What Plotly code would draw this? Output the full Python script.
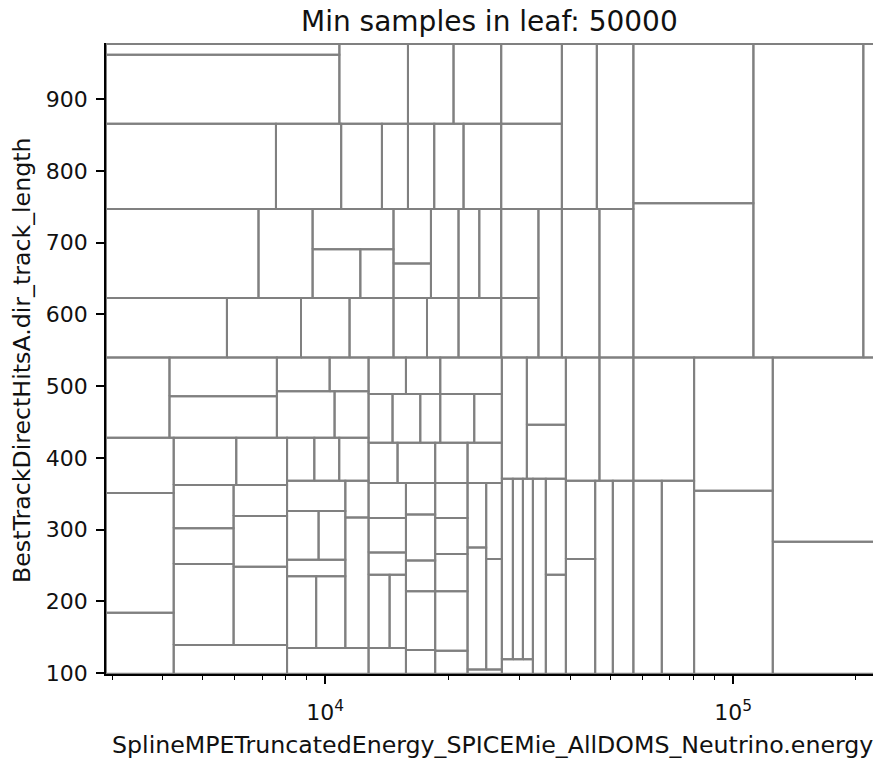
import math
import plotly.graph_objects as go

# ---- data: leaf rectangles of the decision-tree partition (data units) ----
X_MIN, X_MAX = 2900, 225000
Y_MIN, Y_MAX = 99, 977
X_VIEW = (2900, 220300)
Y_VIEW = (98.6, 978.5)

# upper half (y > 540)
up_x0 = [X_MIN, X_MIN, 10830, 15950, 20630, 27000, 38030, 46330,
         X_MIN, 7570, 10940, 13770, 15950, 18500, 21830, 27000,
         X_MIN, 6860, 9310, 9310, 12190, 14700, 14700, 18160, 21220, 23860, 27000, 33320, 38030, 47020,
         X_MIN, 5740, 8720, 11470, 14700, 17760, 21220, 27000,
         56950, 56950, 112150, 208600]
up_x1 = [10830, 10830, 15950, 20630, 27000, 38030, 46330, 56950,
         7570, 10940, 13770, 15950, 18500, 21830, 27000, 38030,
         6860, 9310, 14700, 12190, 14700, 18160, 18160, 21220, 23860, 27000, 33320, 38030, 47020, 56950,
         5740, 8720, 11470, 14700, 17760, 21220, 27000, 33320,
         112150, 112150, 208600, X_MAX]
up_y0 = [962, 866, 866, 866, 866, 866, 747, 747,
         747, 747, 747, 747, 747, 747, 747, 747,
         623, 623, 691, 623, 623, 671, 623, 623, 623, 623, 623, 540, 540, 540,
         540, 540, 540, 540, 540, 540, 540, 540,
         755, 540, 540, 540]
up_y1 = [Y_MAX, 962, Y_MAX, Y_MAX, Y_MAX, Y_MAX, Y_MAX, Y_MAX,
         866, 866, 866, 866, 866, 866, 866, 866,
         747, 747, 747, 691, 691, 747, 671, 747, 747, 747, 747, 747, 747, 747,
         623, 623, 623, 623, 623, 623, 623, 623,
         Y_MAX, 755, Y_MAX, Y_MAX]

# lower half (y < 540)
lo_x0 = [X_MIN, 4150, 4150, 7610, 10250, 7610, 10540,
         12770, 15770, 19140, 12770, 14620, 17100, 19140, 23190,
         X_MIN, X_MIN, X_MIN,
         4250, 6050, 8060, 9400, 10820,
         4250, 4250, 4250, 4250, 5960, 5960, 5960,
         8060, 8060, 9630, 8060, 8060, 9500, 11200, 11200, 8060,
         12770, 15040, 18600, 22330,
         12770, 12770, 12770, 12770, 14380, 12770,
         15770, 15770, 15770, 15770, 15770,
         18600, 18600, 18600, 18600, 18600,
         22330, 22330, 24810, 24810, 22330,
         27100, 31210, 31210, 38900, 47020,
         27100, 28840, 30520, 27100, 32290, 34740, 34740,
         38900, 38900, 45900, 50710,
         56950, 56950, 66860, 80240, 80240, 125100, 125100]
lo_x1 = [4150, 7610, 7610, 10250, 12770, 10540, 12770,
         15770, 19140, 27100, 14620, 17100, 19140, 23190, 27100,
         4250, 4250, 4250,
         6050, 8060, 9400, 10820, 12770,
         5960, 5960, 5960, 8060, 8060, 8060, 8060,
         11200, 9630, 11200, 11200, 9500, 11200, 12770, 12770, 12770,
         15040, 18600, 22330, 27100,
         15770, 15770, 15770, 14380, 15770, 15770,
         18600, 18600, 18600, 18600, 18600,
         22330, 22330, 22330, 22330, 22330,
         24810, 24810, 27100, 27100, 27100,
         31210, 38900, 38900, 47020, 56950,
         28840, 30520, 32290, 32290, 34740, 38900, 38900,
         45900, 45900, 50710, 56950,
         80240, 66860, 80240, 125100, 125100, X_MAX, X_MAX]
lo_y0 = [428, 486, 428, 493, 493, 428, 428,
         489, 489, 489, 421, 421, 421, 421, 421,
         351, 184, Y_MIN,
         362, 362, 368, 368, 368,
         302, 252, 139, Y_MIN, 319, 248, 139,
         326, 258, 258, 235, 135, 135, 317, 135, Y_MIN,
         365, 365, 365, 365,
         316, 268, 237, 135, 135, Y_MIN,
         321, 257, 214, 132, Y_MIN,
         316, 266, 214, 131, Y_MIN,
         275, 105, 259, 105, Y_MIN,
         371, 446, 371, 368, 368,
         119, 119, 119, Y_MIN, Y_MIN, 237, Y_MIN,
         259, Y_MIN, Y_MIN, Y_MIN,
         368, Y_MIN, Y_MIN, 354, Y_MIN, 283, Y_MIN]
lo_y1 = [540, 540, 486, 540, 540, 493, 493,
         540, 540, 540, 489, 489, 489, 489, 489,
         428, 351, 184,
         428, 428, 428, 428, 428,
         362, 302, 252, 139, 362, 319, 248,
         368, 326, 326, 258, 235, 235, 368, 317, 135,
         421, 421, 421, 421,
         365, 316, 268, 237, 237, 135,
         365, 321, 257, 214, 132,
         365, 316, 266, 214, 131,
         365, 275, 365, 259, 105,
         540, 540, 446, 540, 540,
         371, 371, 371, 119, 371, 371, 237,
         368, 259, 368, 368,
         540, 368, 368, 540, 354, 540, 283]

# axis ticks
y_ticks = [100, 200, 300, 400, 500, 600, 700, 800, 900]
x_major = [1e4, 1e5]
x_major_text = ["10<sup>4</sup>", "10<sup>5</sup>"]
x_minor = [3e3, 4e3, 5e3, 6e3, 7e3, 8e3, 9e3,
           2e4, 3e4, 4e4, 5e4, 6e4, 7e4, 8e4, 9e4, 2e5]

title = "Min samples in leaf: 50000"
x_label = "SplineMPETruncatedEnergy_SPICEMie_AllDOMS_Neutrino.energy"
y_label = "BestTrackDirectHitsA.dir_track_length"

# ---- build outlines ----
xs, ys = [], []
for X0, X1, Y0, Y1 in [(up_x0, up_x1, up_y0, up_y1), (lo_x0, lo_x1, lo_y0, lo_y1)]:
    assert len(X0) == len(X1) == len(Y0) == len(Y1)
    for a, b, c, d in zip(X0, X1, Y0, Y1):
        xs += [a, b, b, a, a, None]
        ys += [c, c, d, d, c, None]

fig = go.Figure()
fig.add_trace(go.Scatter(x=xs, y=ys, mode="lines",
                         line=dict(color="rgb(128,128,128)", width=2),
                         hoverinfo="skip", showlegend=False))

L, R, T, B = 106, 1, 43, 85
W, H = 874, 759
fig.update_layout(
    width=W, height=H,
    margin=dict(l=L, r=R, t=T, b=B),
    plot_bgcolor="white", paper_bgcolor="white",
    font=dict(family="DejaVu Sans", size=22, color="#111"),
    showlegend=False,
)
fig.update_xaxes(
    type="log", range=[math.log10(X_VIEW[0]), math.log10(X_VIEW[1])],
    tickmode="array", tickvals=x_major, ticktext=x_major_text,
    ticks="outside", ticklen=8, tickwidth=1.8, tickcolor="black",
    showline=True, linecolor="black", linewidth=1.8,
    showgrid=False, zeroline=False,
    tickfont=dict(size=22), ticklabelstandoff=10,
    minor=dict(tickmode="array", tickvals=x_minor, ticks="outside",
               ticklen=4.5, tickwidth=1.3, tickcolor="black", showgrid=False),
)
fig.update_yaxes(
    range=list(Y_VIEW),
    tickmode="array", tickvals=y_ticks,
    ticks="outside", ticklen=8, tickwidth=1.8, tickcolor="black",
    showline=True, linecolor="black", linewidth=1.8,
    showgrid=False, zeroline=False,
    tickfont=dict(size=22), ticklabelstandoff=4,
)

pw, ph = W - L - R, H - T - B
def px2paper(px, py):
    return (px - L) / pw, (H - B - py) / ph

tx, ty = px2paper(489, 21)
lx, ly = px2paper(492, 745)
yx, yy = px2paper(22, 360)
fig.add_annotation(text=title, x=tx, y=ty, xref="paper", yref="paper",
                   showarrow=False, font=dict(size=28, color="#111"),
                   xanchor="center", yanchor="middle")
fig.add_annotation(text=x_label, x=lx, y=ly, xref="paper", yref="paper",
                   showarrow=False, font=dict(size=23.7, color="#111"),
                   xanchor="center", yanchor="middle")
fig.add_annotation(text=y_label, x=yx, y=yy, xref="paper", yref="paper",
                   showarrow=False, font=dict(size=23.7, color="#111"),
                   textangle=-90, xanchor="center", yanchor="middle")

fig.write_html("out.html")
